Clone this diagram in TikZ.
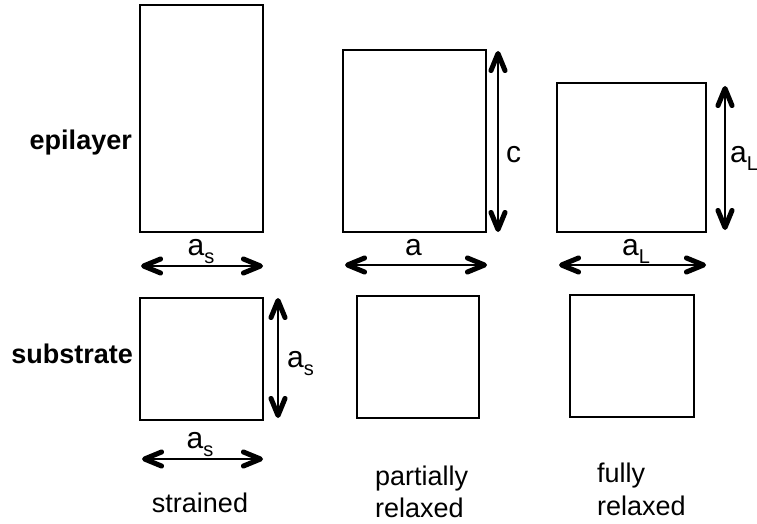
\documentclass[tikz,border=0pt]{standalone}
\usepackage{fontspec}
\setmainfont{Liberation Sans}
\usetikzlibrary{arrows.meta}
\newcommand\mysub[1]{\raisebox{-8pt}{\fontsize{20}{20}\selectfont #1}}
\begin{document}
\begin{tikzpicture}[x=1pt,y=-1pt,
  box/.style={draw, line width=1.8pt, inner sep=0pt, outer sep=0pt},
  barb/.tip={Straight Barb[length=17pt,width=14pt,line width=5pt, round]},
  dim/.style={line width=2pt, barb-barb},
  word/.style={inner sep=0pt, font=\fontsize{27}{32}\selectfont},
  bword/.style={inner sep=0pt, font=\fontsize{27}{32}\selectfont\bfseries},
  lab/.style={inner sep=0pt, font=\fontsize{30}{34}\selectfont}]
\useasboundingbox (0,0) rectangle (757,524);
% boxes
\node[box, minimum width=123pt, minimum height=227pt] (e1) at (201.5,118.5) {};
\node[box, minimum width=143pt, minimum height=182pt] (e2) at (414.5,141) {};
\node[box, minimum width=149pt, minimum height=149pt] (e3) at (631.5,157.5) {};
\node[box, minimum width=123pt, minimum height=122pt] (s1) at (201.5,359) {};
\node[box, minimum width=122pt, minimum height=122pt] (s2) at (418,357) {};
\node[box, minimum width=124pt, minimum height=122pt] (s3) at (632,356) {};
% arrow ends
\coordinate (h1a) at (141,266); \coordinate (h1b) at (263,266);
\coordinate (h2a) at (345,265); \coordinate (h2b) at (487,265);
\coordinate (h3a) at (559,265); \coordinate (h3b) at (706,265);
\coordinate (vca) at (498,51);  \coordinate (vcb) at (498,232);
\coordinate (vla) at (725,86);  \coordinate (vlb) at (725,230);
\coordinate (vsa) at (278,298); \coordinate (vsb) at (278,418);
\coordinate (h4a) at (142,459); \coordinate (h4b) at (263,459);
\draw[dim] (h1a) -- (h1b);
\draw[dim] (h2a) -- (h2b);
\draw[dim] (h3a) -- (h3b);
\draw[dim] (vca) -- (vcb);
\draw[dim] (vla) -- (vlb);
\draw[dim] (vsa) -- (vsb);
\draw[dim] (h4a) -- (h4b);
% labels
\node[lab, anchor=base] (l1) at (201,255) {a\mysub{s}};
\node[lab, anchor=base] (l2) at (413.5,255) {a};
\node[lab, anchor=base] (l3) at (636,255) {a\mysub{L}};
\node[lab, anchor=base west] (l4) at (506,162) {c};
\node[lab, anchor=base west] (l5) at (730,162) {a\mysub{L}};
\node[lab, anchor=base west] (l6) at (287,367) {a\mysub{s}};
\node[lab, anchor=base] (l7) at (200,448) {a\mysub{s}};
% words
\node[bword, anchor=base east] (w1) at (132,149) {epilayer};
\node[bword, anchor=base east] (w2) at (133,363) {substrate};
\node[word, anchor=base] (w3) at (200,512) {strained};
\node[word, anchor=base west] (w4) at (375,485) {partially};
\node[word, anchor=base west] (w5) at (375,517) {relaxed};
\node[word, anchor=base west] (w6) at (597,482) {fully};
\node[word, anchor=base west] (w7) at (597,515) {relaxed};
\end{tikzpicture}
\end{document}
